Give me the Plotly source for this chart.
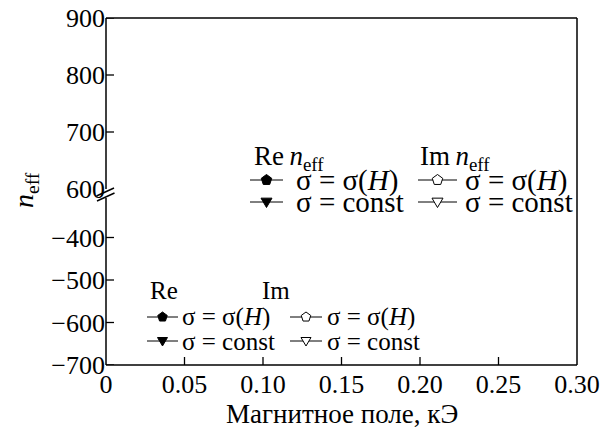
import math
import plotly.graph_objects as go

# Magnetic field (kOe) and effective index series; no measured points are plotted
field_re_sigma_h = []
neff_re_sigma_h = []
field_re_const = []
neff_re_const = []
field_im_sigma_h = []
neff_im_sigma_h = []
field_im_const = []
neff_im_const = []

x_ticks = [0, 0.05, 0.10, 0.15, 0.20, 0.25, 0.30]
x_tick_text = ["0", "0.05", "0.10", "0.15", "0.20", "0.25", "0.30"]
y_upper_ticks = [600, 700, 800, 900]
y_lower_ticks = [-700, -600, -500, -400]

FONT = "Liberation Serif, Times New Roman, serif"
W, H = 613, 432
ML, MR, MT, MB = 106, 36, 18, 67
PW, PH = W - ML - MR, H - MT - MB
TICK = 8


def px(x):
    return (x - ML) / PW


def py(y):
    return (H - MB - y) / PH


styles = {
    "re_sigma_h": dict(symbol="pentagon", filled=True),
    "re_const": dict(symbol="triangle-down", filled=True),
    "im_sigma_h": dict(symbol="pentagon-open", filled=False),
    "im_const": dict(symbol="triangle-down-open", filled=False),
}

series = [
    ("re_sigma_h", field_re_sigma_h, neff_re_sigma_h),
    ("re_const", field_re_const, neff_re_const),
    ("im_sigma_h", field_im_sigma_h, neff_im_sigma_h),
    ("im_const", field_im_const, neff_im_const),
]

fig = go.Figure()
for key, xs, ys in series:
    st = styles[key]
    for yax in ("y", "y2"):
        fig.add_trace(go.Scatter(
            x=xs, y=ys, yaxis=yax, mode="lines+markers", showlegend=False,
            line=dict(color="black", width=1),
            marker=dict(symbol=st["symbol"], size=10, color="black",
                        line=dict(color="black", width=1)),
        ))

annotations = []
shapes = []


def path_from(points):
    return "M " + " L ".join(f"{px(x):.5f},{py(y):.5f}" for x, y in points) + " Z"


def marker_points(symbol, cx, cy, r):
    if symbol.startswith("pentagon"):
        return [(cx + r * math.sin(2 * math.pi * k / 5), cy - r * math.cos(2 * math.pi * k / 5))
                for k in range(5)]
    return [(cx - r, cy - 0.7 * r), (cx + r, cy - 0.7 * r), (cx, cy + r)]


def add_key(key, x0, x1, y, r):
    st = styles[key]
    shapes.append(dict(type="line", xref="paper", yref="paper", x0=px(x0), x1=px(x1),
                       y0=py(y), y1=py(y), line=dict(color="black", width=1)))
    shapes.append(dict(type="path", xref="paper", yref="paper",
                       path=path_from(marker_points(st["symbol"], (x0 + x1) / 2, y, r)),
                       fillcolor="black" if st["filled"] else "white",
                       line=dict(color="black", width=1)))


def add_text(text, x, y, size):
    annotations.append(dict(
        text=text, x=px(x), y=py(y), xref="paper", yref="paper",
        xanchor="left", yanchor="middle", showarrow=False,
        font=dict(family=FONT, size=size, color="black")))


# Upper legend block
add_text("Re\u2009<i>n</i><sub>eff</sub>", 252, 158, 27)
add_text("Im\u2009<i>n</i><sub>eff</sub>", 418, 158, 27)
add_key("re_sigma_h", 250, 283, 180, 5.5)
add_key("re_const", 250, 283, 202, 5.5)
add_key("im_sigma_h", 418, 457, 180, 5.5)
add_key("im_const", 418, 457, 202, 5.5)
add_text("σ = σ(<i>H</i>)", 294, 180, 29)
add_text("σ = const", 294, 202, 29)
add_text("σ = σ(<i>H</i>)", 463, 180, 29)
add_text("σ = const", 463, 202, 29)

# Lower legend block
add_text("Re", 148, 290, 25)
add_text("Im", 260, 290, 25)
add_key("re_sigma_h", 147, 178, 317, 5)
add_key("re_const", 147, 178, 341, 5)
add_key("im_sigma_h", 290, 322, 317, 5)
add_key("im_const", 290, 322, 341, 5)
add_text("σ = σ(<i>H</i>)", 180, 317, 25)
add_text("σ = const", 180, 341, 25)
add_text("σ = σ(<i>H</i>)", 325, 317, 25)
add_text("σ = const", 325, 341, 25)

# Axis titles as paper annotations so the margins stay fixed
annotations.append(dict(
    text="<i>n</i><sub>eff</sub>", x=px(25), y=py(190), xref="paper", yref="paper",
    xanchor="center", yanchor="middle", textangle=-90, showarrow=False,
    font=dict(family=FONT, size=28, color="black")))
annotations.append(dict(
    text="Магнитное поле, кЭ", x=0.5, y=py(414), xref="paper", yref="paper",
    xanchor="center", yanchor="middle", showarrow=False,
    font=dict(family=FONT, size=27, color="black")))

axis_common = dict(showline=False, ticks="", showgrid=False, zeroline=False,
                   automargin=False, tickfont=dict(family=FONT, size=26, color="black"))

y_break_top = 189
y_break_bottom = 198
lower_top_value = -700 + (H - MB - y_break_bottom) / 0.425

frame = dict(color="black", width=1.5)
tick_line = dict(color="black", width=1.3)
shapes += [
    # frame: top, right, bottom, and the two left spine segments around the break
    dict(type="line", xref="paper", yref="paper", x0=0, x1=1, y0=1, y1=1, line=frame),
    dict(type="line", xref="paper", yref="paper", x0=1, x1=1, y0=0, y1=1, line=frame),
    dict(type="line", xref="paper", yref="paper", x0=0, x1=1, y0=0, y1=0, line=frame),
    dict(type="line", xref="paper", yref="paper", x0=0, x1=0, y0=py(y_break_top), y1=1,
         line=frame),
    dict(type="line", xref="paper", yref="paper", x0=0, x1=0, y0=0, y1=py(y_break_bottom),
         line=frame),
    # break marks on the left spine
    dict(type="line", xref="paper", yref="paper", x0=px(96.5), y0=py(196),
         x1=px(114), y1=py(188), line=frame),
    dict(type="line", xref="paper", yref="paper", x0=px(97), y0=py(201),
         x1=px(114.5), y1=py(193), line=frame),
]
# inward tick marks at the tick values of each axis
for v in y_upper_ticks[1:]:
    shapes.append(dict(type="line", xref="paper", yref="y", x0=0, x1=TICK / PW,
                       y0=v, y1=v, line=tick_line))
for v in y_lower_ticks:
    shapes.append(dict(type="line", xref="paper", yref="y2", x0=0, x1=TICK / PW,
                       y0=v, y1=v, line=tick_line))
for v in x_ticks[1:-1]:
    shapes.append(dict(type="line", xref="x", yref="paper", x0=v, x1=v,
                       y0=0, y1=TICK / PH, line=tick_line))

fig.update_layout(
    width=W, height=H, margin=dict(l=ML, r=MR, t=MT, b=MB, autoexpand=False),
    plot_bgcolor="rgba(0,0,0,0)", paper_bgcolor="white", showlegend=False,
    font=dict(family=FONT, color="black"),
    xaxis=dict(range=[0, 0.30], tickvals=x_ticks, ticktext=x_tick_text,
               anchor="y2", ticklabelstandoff=1, **axis_common),
    yaxis=dict(domain=[py(y_break_top), 1], range=[600, 900], tickvals=y_upper_ticks,
               ticktext=[str(v) for v in y_upper_ticks], anchor="x", **axis_common),
    yaxis2=dict(domain=[0, py(y_break_bottom)], range=[-700, lower_top_value],
                tickvals=y_lower_ticks, ticktext=["\u2212" + str(-v) for v in y_lower_ticks],
                anchor="x", **axis_common),
    annotations=annotations, shapes=shapes,
)

fig.write_html("out.html")
